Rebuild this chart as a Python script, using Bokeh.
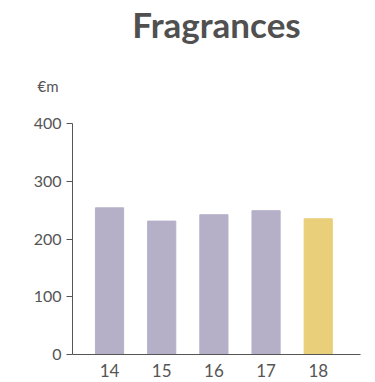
from bokeh.plotting import figure
from bokeh.models import ColumnDataSource, Title, FixedTicker, Range1d
from bokeh.embed import file_html
from bokeh.resources import INLINE

years = [14, 15, 16, 17, 18]
year_labels = ["14", "15", "16", "17", "18"]
values = [254, 231, 242, 249, 235]
colors = ["#b5b0c8", "#b5b0c8", "#b5b0c8", "#b5b0c8", "#e9cf7a"]
y_ticks = [0, 100, 200, 300, 400]

FONT = "Lato"
TXT = "#555555"

src = ColumnDataSource(dict(x=years, top=values, color=colors))

p = figure(width=375, height=382, output_backend="svg", toolbar_location=None,
           x_range=Range1d(13.29, 18.81), y_range=Range1d(0, 400),
           min_border_left=72, min_border_right=15, min_border_top=0, min_border_bottom=28)
p.vbar(x="x", top="top", width=0.54, color="color", source=src)

p.grid.visible = False
p.outline_line_color = None
p.background_fill_color = "white"
p.border_fill_color = "white"

p.yaxis.ticker = FixedTicker(ticks=y_ticks)
p.yaxis.axis_line_color = TXT
p.yaxis.major_tick_line_color = TXT
p.yaxis.major_tick_out = 6
p.yaxis.major_tick_in = 0
p.yaxis.minor_tick_line_color = None
p.yaxis.major_label_text_font = FONT
p.yaxis.major_label_text_font_size = "16px"
p.yaxis.major_label_text_color = TXT
p.yaxis.major_label_standoff = 5

p.xaxis.ticker = FixedTicker(ticks=years)
p.xaxis.major_label_overrides = {y: l for y, l in zip(years, year_labels)}
p.xaxis.axis_line_color = TXT
p.xaxis.major_tick_line_color = None
p.xaxis.minor_tick_line_color = None
p.xaxis.major_label_text_font = FONT
p.xaxis.major_label_text_font_size = "17px"
p.xaxis.major_label_text_color = TXT
p.xaxis.major_label_standoff = 3

em_title = Title(text="€m", align="left", offset=-35, standoff=58,
                 text_font=FONT, text_font_size="15px", text_font_style="normal",
                 text_color=TXT)
main_title = Title(text="Fragrances", align="center", standoff=1,
                   text_font=FONT, text_font_size="35px", text_font_style="bold",
                   text_color="#505050")
p.title = None
p.above = [em_title, main_title]

open("out.html", "w").write(file_html(p, INLINE))
